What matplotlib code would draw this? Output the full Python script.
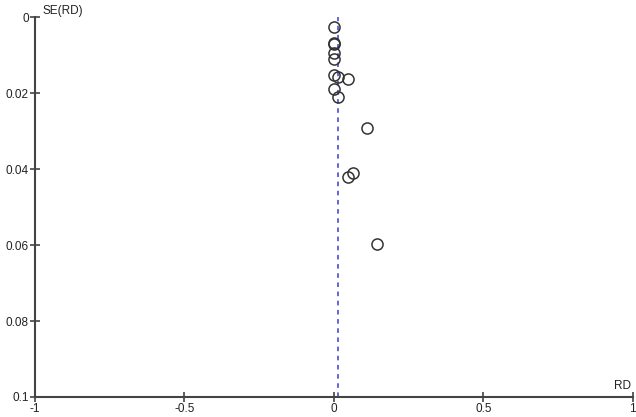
import numpy as np
import matplotlib.pyplot as plt

plt.rcParams['font.family'] = ['Liberation Sans', 'DejaVu Sans']

# study effects (risk difference) and their standard errors
rd = [0.0, 0.001, 0.002, 0.0, 0.0, 0.0, 0.015, 0.048, 0.0, 0.013, 0.11, 0.064, 0.047, 0.145]
se = [0.0026, 0.0068, 0.0071, 0.0095, 0.0111, 0.0152, 0.0158, 0.0164, 0.0190, 0.0211, 0.0292, 0.0410, 0.0420, 0.0597]
pooled = 0.015

x_ticks = [-1, -0.5, 0, 0.5, 1]
y_ticks = [0, 0.02, 0.04, 0.06, 0.08, 0.1]

fig = plt.figure(figsize=(6.36, 4.17), dpi=100)
ax = fig.add_axes([0.055, 0.048, 0.94, 0.911])

ax.axvline(pooled, color='#3c3cc8', linestyle=(0, (3, 3)), linewidth=1.1, zorder=1)
ax.plot(rd, se, 'o', markersize=8, markerfacecolor='none',
        markeredgecolor='#333333', markeredgewidth=1.1, zorder=2)

ax.set_xlim(-1, 1)
ax.set_ylim(0.1, 0)
ax.set_xticks(x_ticks)
ax.set_xticklabels(['-1', '-0.5', '0', '0.5', '1'])
ax.set_yticks(y_ticks)
ax.set_yticklabels(['0', '0.02', '0.04', '0.06', '0.08', '0.1'])

for s in ['top', 'right']:
    ax.spines[s].set_visible(False)
for s in ['left', 'bottom']:
    ax.spines[s].set_color('#444444')
    ax.spines[s].set_linewidth(1.5)
ax.tick_params(direction='inout', length=7, width=1.2, color='#444444',
               labelsize=8.5, labelcolor='#222222', pad=1)

ax.text(0.012, 1.0, 'SE(RD)', transform=ax.transAxes, fontsize=8.5,
        color='#222222', ha='left', va='bottom')
ax.text(0.997, 0.012, 'RD', transform=ax.transAxes, fontsize=8.5,
        color='#222222', ha='right', va='bottom')

fig.savefig('out.png', dpi=100)
